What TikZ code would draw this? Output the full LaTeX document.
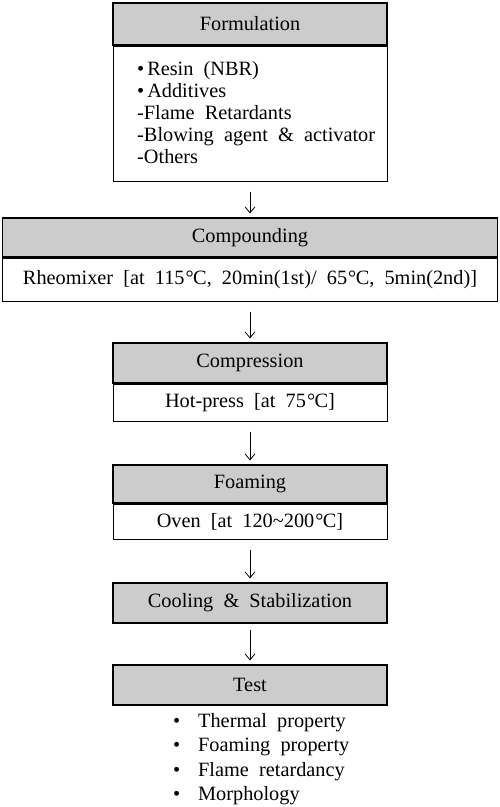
\documentclass[tikz,border=0pt]{standalone}
\usepackage{fontspec}
\setmainfont{Liberation Serif}[WordSpace=2]
\usetikzlibrary{arrows.meta}
\newcommand{\degC}{\kern1pt°\kern-0.5pt C}
\begin{document}
\begin{tikzpicture}[x=1pt,y=-1pt,
  hdr/.style={draw, line width=1.2pt, fill=black!20, inner sep=0pt, font=\fontsize{20.3}{22}\selectfont},
  bdy/.style={draw, line width=1pt, inner sep=0pt, font=\fontsize{20.3}{22}\selectfont},
  itm/.style={inner sep=0pt, anchor=base west, font=\fontsize{20.3}{22}\selectfont},
  flow/.style={-{Straight Barb[length=6pt,width=10pt]}, line width=0.8pt, shorten <=10pt, shorten >=4pt}
]
\useasboundingbox (0,0) rectangle (499,807);
% Formulation
\node[hdr, minimum width=274pt, minimum height=42pt] (formH) at (250,24) {Formulation};
\node[bdy, minimum width=274pt, minimum height=135pt, anchor=north] (formB) at (formH.south) {};
\node[itm] (f1) at (137,75) {•\kern3pt Resin (NBR)};
\node[itm] (f2) at (137,97) {•\kern3pt Additives};
\node[itm] (f3) at (137,119) {-Flame Retardants};
\node[itm] (f4) at (137,141) {-Blowing agent \& activator};
\node[itm] (f5) at (137,163) {-Others};
% Compounding
\node[hdr, minimum width=495pt, minimum height=39pt] (compH) at (250,237.5) {Compounding};
\node[bdy, minimum width=495pt, minimum height=43pt, anchor=north] (compB) at (compH.south) {Rheomixer [at 115\degC, 20min(1st)/ 65\degC, 5min(2nd)]};
% Compression
\node[hdr, minimum width=274pt, minimum height=40pt] (presH) at (250,363) {Compression};
\node[bdy, minimum width=274pt, minimum height=37pt, anchor=north] (presB) at (presH.south) {Hot-press [at 75\degC]};
% Foaming
\node[hdr, minimum width=274pt, minimum height=38pt] (foamH) at (250,484) {Foaming};
\node[bdy, minimum width=274pt, minimum height=35pt, anchor=north] (foamB) at (foamH.south) {Oven [at 120\textasciitilde 200\degC]};
% Cooling
\node[hdr, minimum width=274pt, minimum height=40pt] (coolH) at (250,603) {Cooling \& Stabilization};
% Test
\node[hdr, minimum width=274pt, minimum height=40pt] (testH) at (250,685) {Test};
\node[itm] (t1) at (173,727) {\makebox[25pt][l]{•}Thermal property};
\node[itm] (t2) at (173,751) {\makebox[25pt][l]{•}Foaming property};
\node[itm] (t3) at (173,776) {\makebox[25pt][l]{•}Flame retardancy};
\node[itm] (t4) at (173,800) {\makebox[25pt][l]{•}Morphology};
% arrows
\draw[flow] (formB.south) -- (compH.north);
\draw[flow] (compB.south) -- (presH.north);
\draw[flow] (presB.south) -- (foamH.north);
\draw[flow] (foamB.south) -- (coolH.north);
\draw[flow, shorten <=6pt] (coolH.south) -- (testH.north);
\end{tikzpicture}
\end{document}
